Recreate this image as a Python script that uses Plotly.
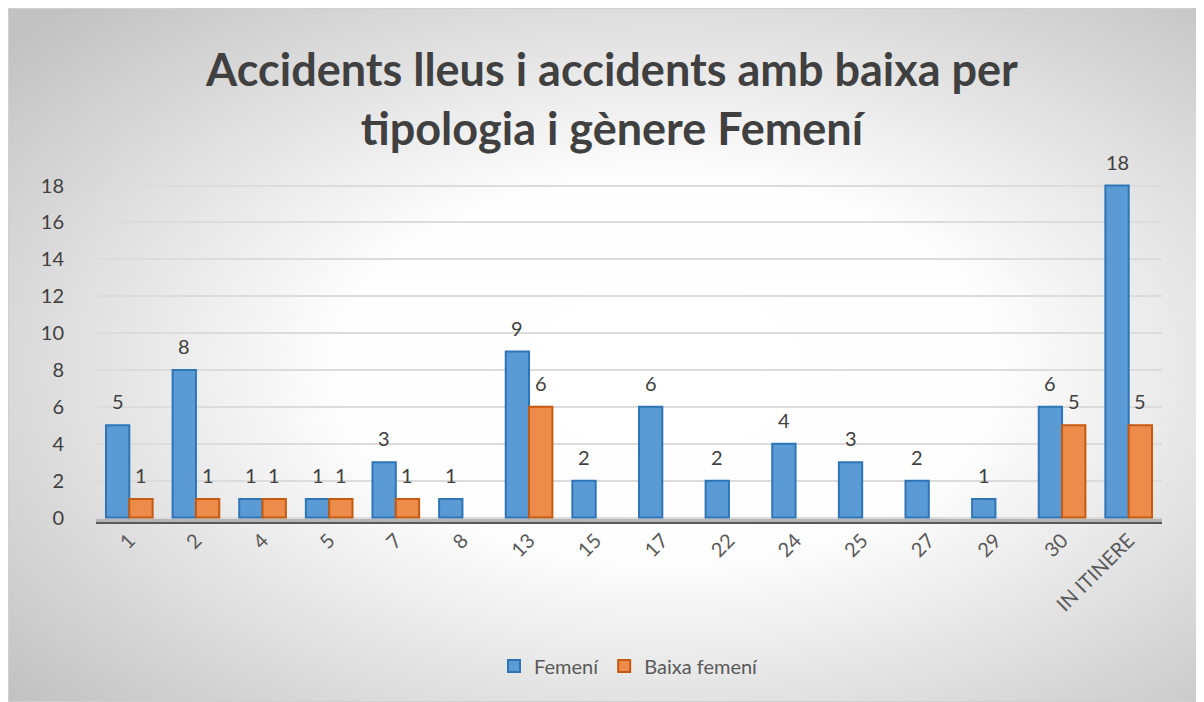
import base64
import plotly.graph_objects as go

categories = ["1", "2", "4", "5", "7", "8", "13", "15", "17", "22", "24", "25", "27", "29", "30", "IN ITINERE"]
femeni = [5, 8, 1, 1, 3, 1, 9, 2, 6, 2, 4, 3, 2, 1, 6, 18]
baixa_femeni = [1, 1, 1, 1, 1, None, 6, None, None, None, None, None, None, None, 5, 5]
y_ticks = [0, 2, 4, 6, 8, 10, 12, 14, 16, 18]

W, H = 1196, 694
L, R, T, B = 88, 42, 172, 178
PW, PH = W - L - R, H - T - B

svg = f'''<svg xmlns="http://www.w3.org/2000/svg" width="{W}" height="{H}">
<defs><radialGradient id="g" cx="55%" cy="52%" r="72%">
<stop offset="0%" stop-color="#ffffff"/><stop offset="38%" stop-color="#fefefe"/>
<stop offset="100%" stop-color="#c2c2c2"/></radialGradient></defs>
<rect x="0" y="0" width="{W}" height="{H}" fill="url(#g)"/>
<rect x="0.5" y="0.5" width="{W-1}" height="{H-1}" fill="none" stroke="#d0d0d0" stroke-width="1"/>
</svg>'''
src = "data:image/svg+xml;base64," + base64.b64encode(svg.encode()).decode()

FONT = "Lato, 'Open Sans', sans-serif"
lab_font = dict(family=FONT, size=20, color="#404040")

fig = go.Figure()
fig.add_trace(go.Bar(
    x=categories, y=femeni, name="Femení",
    marker=dict(color="#5b9bd5", line=dict(color="#2e75b6", width=2)),
))
fig.add_trace(go.Bar(
    x=categories, y=baixa_femeni, name="Baixa femení",
    marker=dict(color="#ed8b4b", line=dict(color="#c55a11", width=2)),
))

annotations = []
cat_w = PW / len(categories)
off = cat_w * (1 - 0.3) / 4
for series, shift in ((femeni, -off), (baixa_femeni, off)):
    for i, v in enumerate(series):
        if v:
            annotations.append(dict(x=i, y=v, text=str(v), showarrow=False, xref="x", yref="y",
                                    xshift=shift, yshift=24, font=lab_font))

fig.update_layout(
    width=W, height=H,
    margin=dict(l=L, r=R, t=T, b=B),
    paper_bgcolor="white", plot_bgcolor="rgba(0,0,0,0)",
    barmode="group", bargap=0.3, bargroupgap=0.0,
    title=dict(
        text="<b>Accidents lleus i accidents amb baixa per<br>tipologia i gènere Femení</b>",
        x=0.505, xanchor="center", y=1 - 78 / H, yanchor="middle", yref="container",
        font=dict(family=FONT, size=45, color="#404040"),
    ),
    font=dict(family=FONT, size=20, color="#595959"),
    xaxis=dict(type="category", tickangle=-45, showgrid=False, showline=False, ticks="",
               tickfont=dict(size=20, color="#595959")),
    yaxis=dict(range=[-0.35, 18.3], tickvals=y_ticks, showgrid=True, gridcolor="#dcdcdc",
               gridwidth=2, zeroline=False, showline=False, ticks="", ticklabelstandoff=31,
               tickfont=dict(size=20, color="#404040")),
    legend=dict(orientation="h", x=0.5, xanchor="center", y=-142 / PH, yanchor="middle",
                font=dict(size=20, color="#595959"), bgcolor="rgba(0,0,0,0)"),
    annotations=annotations,
    images=[dict(source=src, xref="paper", yref="paper", x=-L / PW, y=1 + T / PH,
                 sizex=W / PW, sizey=H / PH, xanchor="left", yanchor="top",
                 sizing="stretch", layer="below")],
    shapes=[
        dict(type="rect", xref="paper", yref="y", x0=0, x1=1, y0=-0.35, y1=0.0,
             fillcolor="#b5b5b5", line=dict(width=0), layer="below"),
        dict(type="line", xref="paper", yref="y", x0=0, x1=1, y0=-0.35, y1=-0.35,
             line=dict(color="#595959", width=4), layer="below"),
    ],
)

fig.write_html("out.html")
